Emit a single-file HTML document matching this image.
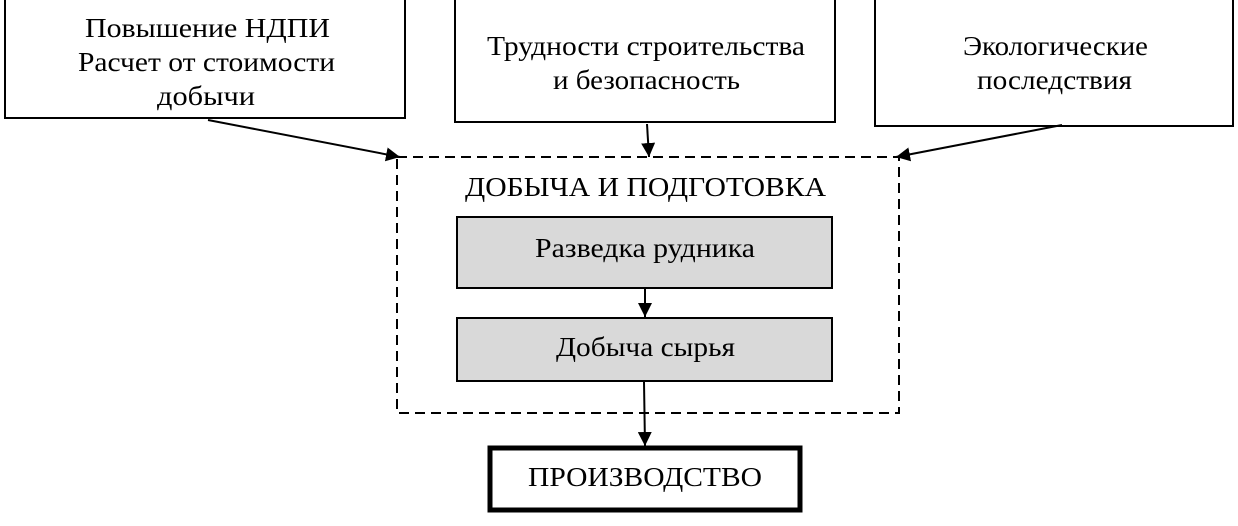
<!DOCTYPE html>
<html><head><meta charset="utf-8"><style>
body{margin:0;background:#fff;width:1238px;height:521px;overflow:hidden}
text{font-family:"Liberation Serif","DejaVu Serif",serif;font-size:27px;fill:#000}
</style></head><body>
<svg width="1238" height="521" xmlns="http://www.w3.org/2000/svg" font-family="Liberation Serif, DejaVu Serif, serif">
<defs>
<marker id="b" markerWidth="14" markerHeight="14" refX="14" refY="7" orient="auto" markerUnits="userSpaceOnUse" viewBox="0 0 14 14"><path d="M0,0 L14,7 L0,14 z" fill="#000"/></marker></defs>
<g fill="#fff" stroke="#000" stroke-width="2">
<rect x="5" y="-2" width="400" height="120"/>
<rect x="455" y="-2" width="380" height="124"/>
<rect x="875" y="-2" width="358" height="128"/>
</g>
<rect x="397" y="157" width="502" height="256" fill="none" stroke="#000" stroke-width="2" stroke-dasharray="10,6"/>
<g fill="#d9d9d9" stroke="#000" stroke-width="2">
<rect x="457" y="217" width="375" height="71"/>
<rect x="457" y="318" width="375" height="63"/>
</g>
<rect x="490" y="448" width="310" height="62" fill="#fff" stroke="#000" stroke-width="5"/>
<g stroke="#000" stroke-width="2" fill="none">
<line x1="208" y1="120" x2="400" y2="157" marker-end="url(#b)"/>
<line x1="647" y1="124" x2="649" y2="157" marker-end="url(#b)"/>
<line x1="1062" y1="125" x2="896" y2="157" marker-end="url(#b)"/>
<line x1="645" y1="289" x2="645" y2="317" marker-end="url(#b)"/>
<line x1="644" y1="382" x2="645" y2="446" marker-end="url(#b)"/>
</g>
<g lengthAdjust="spacingAndGlyphs">
<text x="85" y="37" textLength="245" lengthAdjust="spacingAndGlyphs">Повышение НДПИ</text>
<text x="78" y="71" textLength="257" lengthAdjust="spacingAndGlyphs">Расчет от стоимости</text>
<text x="157" y="105" textLength="98" lengthAdjust="spacingAndGlyphs">добычи</text>
<text x="487" y="55" textLength="318" lengthAdjust="spacingAndGlyphs">Трудности строительства</text>
<text x="553" y="89" textLength="187" lengthAdjust="spacingAndGlyphs">и безопасность</text>
<text x="963" y="55" textLength="185" lengthAdjust="spacingAndGlyphs">Экологические</text>
<text x="977" y="89" textLength="155" lengthAdjust="spacingAndGlyphs">последствия</text>
<text x="465" y="196" textLength="361" lengthAdjust="spacingAndGlyphs">ДОБЫЧА И ПОДГОТОВКА</text>
<text x="535" y="257" textLength="220" lengthAdjust="spacingAndGlyphs">Разведка рудника</text>
<text x="556" y="356" textLength="179" lengthAdjust="spacingAndGlyphs">Добыча сырья</text>
<text x="528" y="486" textLength="234" lengthAdjust="spacingAndGlyphs">ПРОИЗВОДСТВО</text>
</g>
</svg>
</body></html>
